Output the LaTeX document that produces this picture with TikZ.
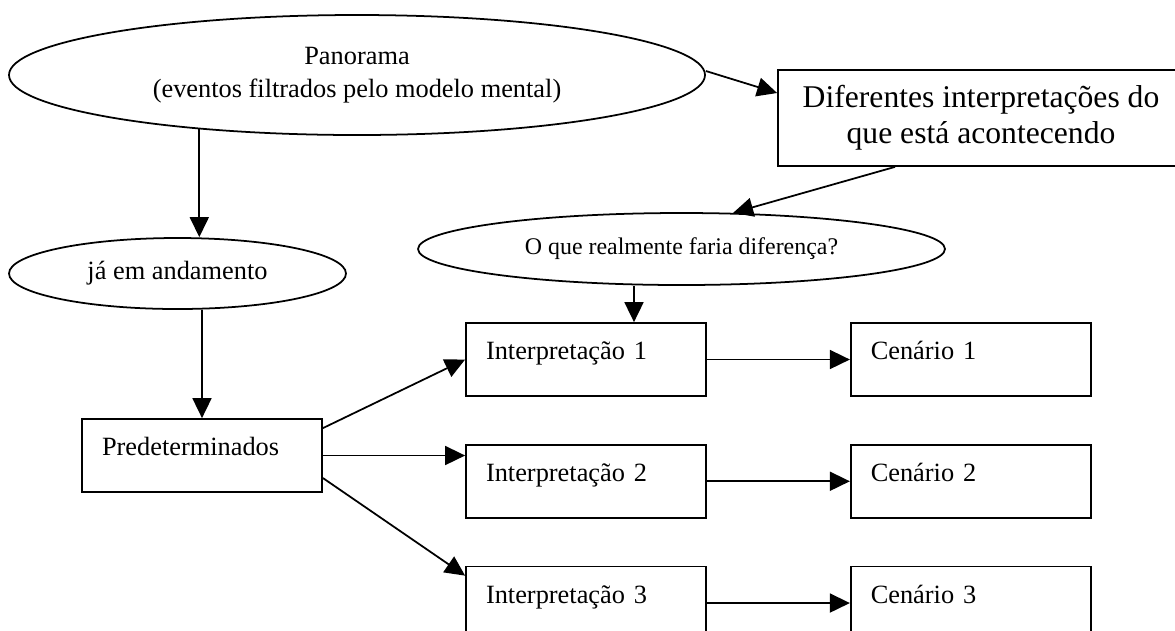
\documentclass[tikz,border=0pt]{standalone}
\usepackage{fontspec}
\setmainfont{Liberation Serif}
\usepackage{tikz}
\usetikzlibrary{shapes.geometric, arrows.meta, positioning}
\tikzstyle{view} = [ellipse, draw=black, line width=1pt, inner sep=0pt, align=center]
\tikzstyle{question} = [rectangle, draw=black, line width=1pt, align=center, font=\fontsize{18}{20.5}\selectfont]
\tikzstyle{option} = [rectangle, draw=black, line width=1pt, minimum height=1.46cm, text width=4cm, inner xsep=0.4cm, text height=0.4cm, text depth=0.4cm, align=left]
\tikzstyle{arrow} = [line width=1pt, -{Triangle[length=0.4cm, width=0.38cm]}]

\begin{document}
\begin{tikzpicture}[node distance=0.94cm, font=\fontsize{15}{18.7}\selectfont]
\path[use as bounding box, clip] (0,0) rectangle (23.5,-12.6);

% Panorama
\node (panorama) [view, minimum width=13.92cm, minimum height=2.4cm] at (7.14,-1.5) {Panorama\\(eventos filtrados pelo modelo mental)};

% Interpretations of what is going on
\node (diferentes) [question, minimum width=8.12cm, minimum height=1.92cm] at (19.62,-2.36) {Diferentes interpretações do\\que está acontecendo};
\node (pergunta) [view, minimum width=10.54cm, minimum height=1.44cm, font=\fontsize{13.6}{16}\selectfont] at (13.63,-4.98) {O que realmente faria diferença?};

% Left branch
\node (andamento) [view, minimum width=6.74cm, minimum height=1.42cm] at (3.55,-5.47) {já em andamento};
\node (predet) [option] at (4.04,-9.11) {Predeterminados};

% Interpretations
\node (interp-1) [option] at (11.72,-7.19) {Interpretação 1};
\node (interp-2) [option, below=of interp-1] {Interpretação 2};
\node (interp-3) [option, below=of interp-2] {Interpretação 3};

% Scenarios
\node (cenario-1) [option, right=2.86cm of interp-1] {Cenário 1};
\node (cenario-2) [option, right=2.86cm of interp-2] {Cenário 2};
\node (cenario-3) [option, right=2.86cm of interp-3] {Cenário 3};

% Arrows
\draw [arrow] (panorama.199) -- (panorama.199 |- andamento.north);
\draw [arrow] (andamento.south -| predet.north) -- (predet.north);
\draw [arrow] ([yshift=0.08cm]panorama.east) -- ([yshift=0.5cm]diferentes.west);
\draw [arrow] ([xshift=-1.72cm]diferentes.south) -- (pergunta.35);
\draw [arrow] ([xshift=0.96cm]interp-1.north |- pergunta.south) -- ([xshift=0.96cm]interp-1.north);

\draw [arrow] ([yshift=-0.2cm]predet.north east) -- (interp-1.west);
\draw [arrow] (predet.east) -- (predet.east -| interp-2.west);
\draw [arrow] ([yshift=-0.45cm]predet.east) -- ([yshift=-0.2cm]interp-3.north west);

\foreach \i in {1,2,3}
  \draw [arrow] (interp-\i) -- (cenario-\i);

\end{tikzpicture}
\end{document}
